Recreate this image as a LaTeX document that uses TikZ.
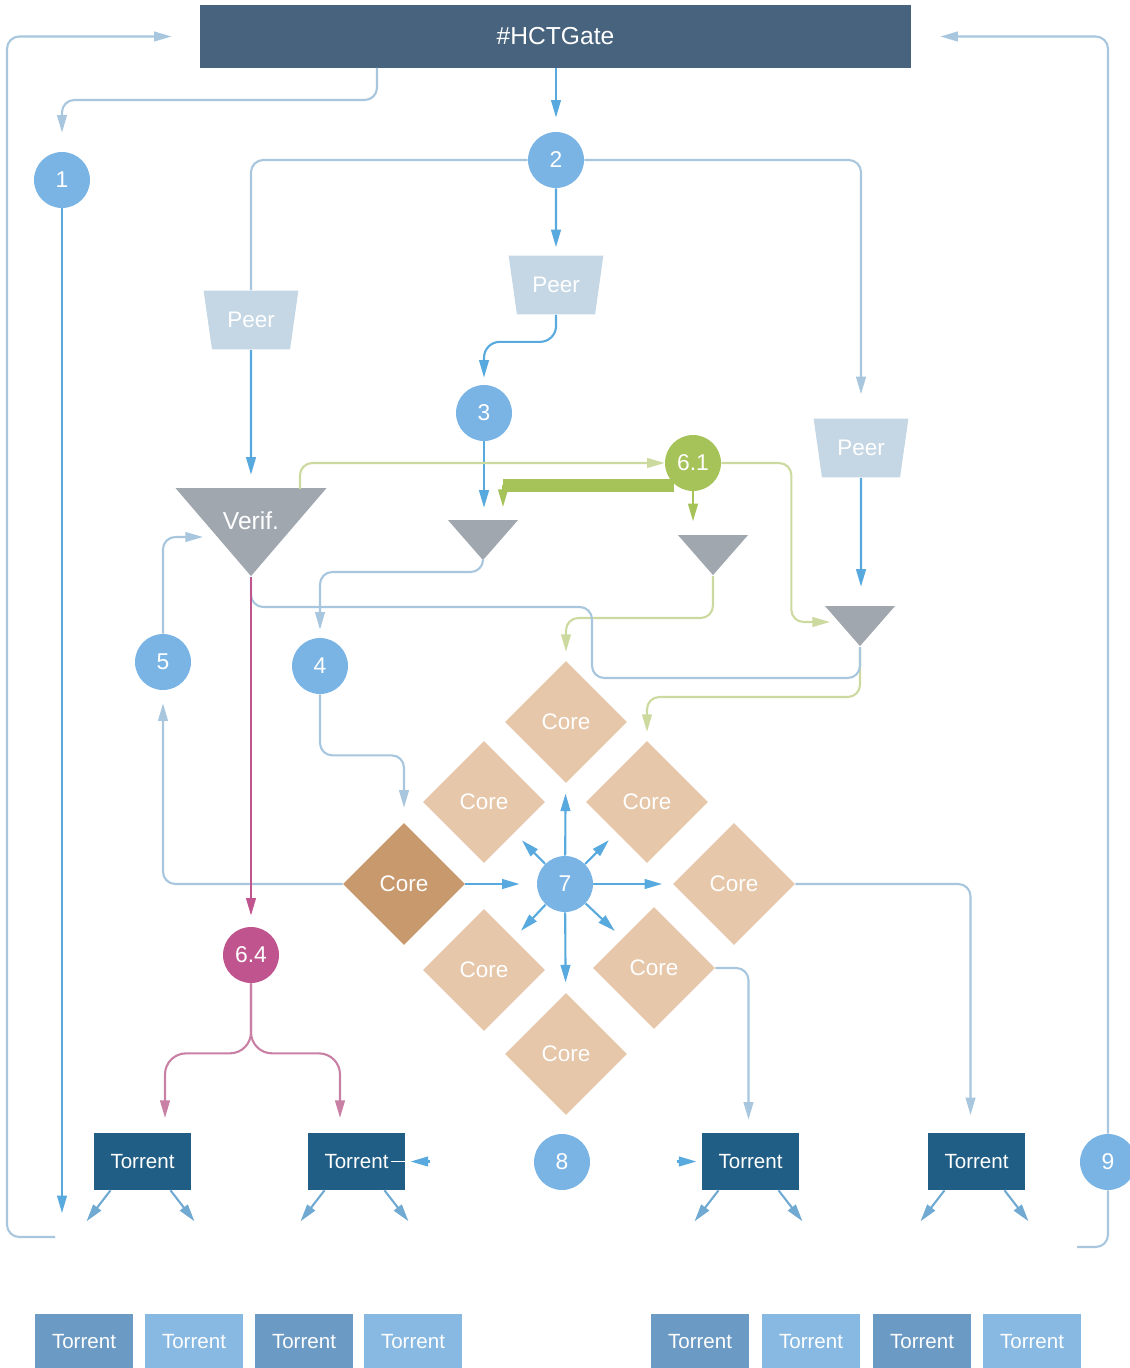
\documentclass[tikz,border=0pt]{standalone}
\usepackage{fontspec}
\setmainfont{Liberation Sans}
\usetikzlibrary{shapes.geometric,arrows.meta,calc}
\definecolor{gatecol}{RGB}{71,99,125}
\definecolor{torcol}{RGB}{33,94,133}
\definecolor{legdark}{RGB}{107,154,196}
\definecolor{leglight}{RGB}{136,185,226}
\definecolor{circlecol}{RGB}{122,180,228}
\definecolor{greencol}{RGB}{166,195,90}
\definecolor{greenpale}{RGB}{204,218,160}
\definecolor{magcol}{RGB}{192,84,142}
\definecolor{magpale}{RGB}{200,128,164}
\definecolor{peercol}{RGB}{197,215,228}
\definecolor{tricol}{RGB}{160,167,175}
\definecolor{corecol}{RGB}{230,199,169}
\definecolor{coredark}{RGB}{201,153,110}
\definecolor{brightcol}{RGB}{88,170,222}
\definecolor{palecol}{RGB}{168,199,222}
\definecolor{midcol}{RGB}{112,170,210}
\begin{document}
\begin{tikzpicture}[%
        x=0.02cm, y=-0.02cm,
        mycircle/.style={shape=circle, fill=circlecol, text=white, minimum size=1.12cm,
            inner sep=0pt, font=\fontsize{13}{15}\selectfont},
        mypeer/.style={trapezium, trapezium stretches=true, shape border rotate=180,
            trapezium left angle=72, trapezium right angle=72, fill=peercol, text=white,
            minimum width=1.9cm, minimum height=1.18cm, inner sep=0pt,
            font=\fontsize{12.8}{15}\selectfont},
        mytri/.style={isosceles triangle, isosceles triangle stretches=true,
            shape border rotate=270, fill=tricol, text=white, inner sep=0pt,
            minimum width=1.4cm, minimum height=0.8cm, anchor=apex},
        mycore/.style={diamond, aspect=1, fill=corecol, text=white, minimum width=2.44cm,
            minimum height=2.44cm, inner sep=0pt, font=\fontsize{12.8}{15}\selectfont},
        mytorrent/.style={rectangle, fill=torcol, text=white, minimum width=1.94cm,
            minimum height=1.14cm, inner sep=0pt, font=\fontsize{11.7}{14}\selectfont},
        mylegend/.style={rectangle, text=white, minimum width=1.96cm, minimum height=1.14cm,
            inner sep=0pt, font=\fontsize{11.7}{14}\selectfont},
        myline/.style={draw=palecol, line width=1.2pt, rounded corners=7pt},
        myarrow/.style={myline, -{Triangle[length=10pt,width=5.5pt]}},
        mybright/.style={myarrow, draw=brightcol},
        mygreen/.style={myarrow, draw=greenpale},
        mymag/.style={myarrow, draw=magpale}
    ]
    \useasboundingbox (0,0) rectangle (1129,1368);

    % top gate
    \node [rectangle, fill=gatecol, text=white, minimum width=14.22cm, minimum height=1.26cm,
        font=\fontsize{14}{16}\selectfont] (gate) at (555.5,36.5) {\#HCTGate};

    % numbered steps
    \node [mycircle] (n1) at (62,180) {1};
    \node [mycircle] (n2) at (556,160) {2};
    \node [mycircle] (n3) at (484,413) {3};
    \node [mycircle] (n4) at (320,666) {4};
    \node [mycircle] (n5) at (163,662) {5};
    \node [mycircle] (n7) at (565,884) {7};
    \node [mycircle] (n8) at (562,1162) {8};
    \node [mycircle] (n9) at (1108,1162) {9};
    \node [mycircle, fill=greencol] (n61) at (693,463) {6.1};
    \node [mycircle, fill=magcol] (n64) at (251,955) {6.4};

    % peers and verifiers
    \node [mypeer] (peerA) at (251,320) {Peer};
    \node [mypeer] (peerB) at (556,285) {Peer};
    \node [mypeer] (peerC) at (861,448) {Peer};
    \node [mytri, minimum width=3.02cm, minimum height=1.76cm,
        font=\fontsize{14}{16}\selectfont] (verif) at (251,577)
        {\raisebox{-11pt}[0pt][0pt]{Verif.}};
    \node [mytri] (triB) at (483,561) {};
    \node [mytri] (triC) at (713,576) {};
    \node [mytri] (triD) at (860,647) {};

    % cores
    \foreach \name/\x/\y in {coreT/566/722, coreUL/484/802, coreUR/647/802, coreR/734/884,
            coreLL/484/970, coreLR/654/968, coreB/566/1054}
        \node [mycore] (\name) at (\x,\y) {Core};
    \node [mycore, fill=coredark] (coreL) at (404,884) {Core};

    % torrents
    \node [mytorrent] (torA) at (142.5,1161.5) {Torrent};
    \node [mytorrent] (torB) at (356.5,1161.5) {Torrent};
    \node [mytorrent] (torC) at (750.5,1161.5) {Torrent};
    \node [mytorrent] (torD) at (976.5,1161.5) {Torrent};
    \foreach \x/\c [count=\i] in {84/legdark,194/leglight,304/legdark,413/leglight,
            700/legdark,811/leglight,922/legdark,1032/leglight}
        \node [mylegend, fill=\c] (lg\i) at (\x,1342) {Torrent};

    % free ends
    \coordinate (g1) at (377,68);
    \coordinate (lb) at (55,1237);
    \coordinate (lTop) at (7,36.5);
    \coordinate (rb) at (1077,1247);
    \coordinate (vg) at (300,489);
    \coordinate (vIn) at (203,537);
    \coordinate (dIn) at (830,622);
    \coordinate (barL) at (503,485);
    \coordinate (aA) at (165,1118);
    \coordinate (aB) at (340,1118);

    % connectors
    \draw [mybright, shorten >=8pt] (gate.south -| n2) -- (n2);
    \draw [myarrow, shorten >=10.8pt] (g1) -- ++(0,32) -| (n1.north);
    \draw [mybright, shorten >=4.5pt] (n2) -- (peerB);
    \draw [myline] (n2.west) -| (peerA.north);
    \draw [myarrow, shorten >=13.6pt] (n2.east) -| (peerC.north);
    \draw [mybright, shorten >=7.4pt] (peerA) -- (verif);
    \draw [mybright, rounded corners=9pt, shorten >=4pt] (peerB.south) -- ++(0,27) -| (n3.north);
    \draw [mybright, shorten >=6.8pt] (n3) -- (n3 |- triB.north);
    \draw [mybright, shorten >=10.8pt] (peerC) -- (peerC |- triD.north);
    \draw [mygreen] (vg) |- (n61.west);
    \draw [mygreen, draw=greencol, shorten >=8pt] (n61.south) -- ++(0,44);
    \draw [mygreen] (n61.east) -- ++(70,0) |- (dIn);
    \draw [draw=greencol, line width=7.4pt] (674,485) -- (barL);
    \draw [mygreen, draw=greencol] (barL) -- ++(0,22);
    \draw [mygreen, shorten >=5pt] (triC.apex) -- ++(0,42) -| (coreT.north);
    \draw [mygreen, shorten >=5pt] (triD.apex) -- ++(0,50) -| (coreUR.north);
    \draw [myline] (verif.apex) |- (592,607) |- (860,678) -- (triD.apex);
    \draw [myarrow, shorten >=4.5pt] (triB.apex) -- ++(0,11) -| (n4.north);
    \draw [myarrow, shorten >=8.5pt] (n4.south) -- ++(0,61) -| (coreL.north);
    \draw [myarrow, shorten >=7.4pt] (coreL.west) -| (n5.south);
    \draw [myarrow] (n5.north) |- (vIn);
    \draw [mymag, draw=magcol, shorten >=6.3pt] (verif.apex) -- (n64.north);
    \draw [mymag, rounded corners=12pt] (n64.south) -- ++(0,70) -| (aA);
    \draw [mymag, rounded corners=12pt] (n64.south) -- ++(0,70) -| (aB);
    \draw [mybright, shorten >=9.7pt] (coreL.east) -- (n7.west);
    \foreach \c in {coreT,coreUL,coreUR,coreR,coreLL,coreLR,coreB}
        \draw [mybright, shorten >=6pt] (n7) -- (\c);
    \draw [myarrow, shorten >=10pt] (coreR.east) -| ($(torD.north)+(-6,0)$);
    \draw [myarrow, shorten >=7.4pt] (coreLR.east) -| ($(torC.north)+(-2,0)$);
    \foreach \t in {torA,torB,torC,torD} {
        \draw [myarrow, draw=midcol] ($(\t.south)+(-32,0)$) -- ++(-24,31);
        \draw [myarrow, draw=midcol] ($(\t.south)+(28,0)$) -- ++(24,31);
    }
    \draw [mybright, shorten >=3pt] ($(torB.east)+(25,0)$) -- (torB.east);
    \draw [white, line width=0.8pt] ($(torB.east)+(-14,0)$) -- (torB.east);
    \draw [mybright, shorten >=3pt] ($(torC.west)+(-25,0)$) -- (torC.west);
    \draw [mybright, shorten >=13.6pt] (n1.south) -- (n1.south |- lb);
    \draw [myarrow, shorten >=16pt] (lb) -| (lTop) -- (gate.west);
    \draw [myarrow, shorten >=16.5pt] (n9.north) |- (gate.east);
    \draw [myline] (n9.south) |- (rb);
\end{tikzpicture}
\end{document}
